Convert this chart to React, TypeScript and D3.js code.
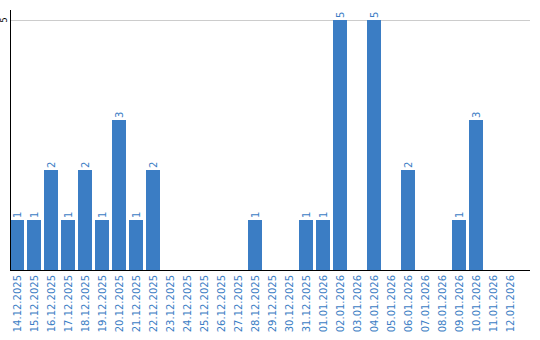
import React from "react";
import * as d3 from "d3";

const categories = [
  "14.12.2025","15.12.2025","16.12.2025","17.12.2025","18.12.2025","19.12.2025",
  "20.12.2025","21.12.2025","22.12.2025","23.12.2025","24.12.2025","25.12.2025",
  "26.12.2025","27.12.2025","28.12.2025","29.12.2025","30.12.2025","31.12.2025",
  "01.01.2026","02.01.2026","03.01.2026","04.01.2026","05.01.2026","06.01.2026",
  "07.01.2026","08.01.2026","09.01.2026","10.01.2026","11.01.2026","12.01.2026",
];
const values = [1,1,2,1,2,1,3,1,2,0,0,0,0,0,1,0,0,1,1,5,0,5,0,2,0,0,1,3,0,0];
const yTicks = [5];

const W = 540, H = 340;
const BLUE = "#3b7dc4";
const FONT = "'DejaVu Sans', Verdana, sans-serif";

export default function App() {
  const x = d3.scaleBand<string>().domain(categories).range([10, 517]).paddingInner(3 / 17).paddingOuter(0);
  const y = d3.scaleLinear().domain([0, 5]).range([270, 20]);
  return (
    <svg width={W} height={H} style={{ position: "absolute", left: 0, top: 0 }}>
      {yTicks.map((t) => (
        <line key={"g" + t} x1={10.5} x2={530} y1={y(t) + 0.5} y2={y(t) + 0.5} stroke="#cccccc" strokeWidth={1} />
      ))}
      {categories.map((c, i) => (
        values[i] > 0 ? (
          <rect key={"b" + c} x={x(c)} y={y(values[i])} width={x.bandwidth()} height={y(0) - y(values[i])} fill={BLUE} />
        ) : null
      ))}
      {categories.map((c, i) => (
        values[i] > 0 ? (
          <text key={"v" + c} transform={`translate(${(x(c) as number) + x.bandwidth() / 2},${y(values[i]) - 2}) rotate(-90)`}
            dy="0.36em" fontSize={10} fontFamily={FONT} fill={BLUE} textAnchor="start">{values[i]}</text>
        ) : null
      ))}
      <line x1={10.5} x2={10.5} y1={10} y2={270} stroke="#000" strokeWidth={1} />
      <line x1={10} x2={530} y1={270.5} y2={270.5} stroke="#000" strokeWidth={1} />
      {yTicks.map((t) => (
        <text key={"t" + t} transform={`translate(4,${y(t)}) rotate(-90)`} dy="0.36em" textAnchor="middle"
          fontSize={8} fontFamily={FONT} fill="#000">{t}</text>
      ))}
      {categories.map((c) => (
        <text key={"x" + c} transform={`translate(${(x(c) as number) + x.bandwidth() / 2},275) rotate(-90)`}
          dy="0.36em" textAnchor="end" fontSize={10} fontFamily={FONT} fill={BLUE}>{c}</text>
      ))}
    </svg>
  );
}
